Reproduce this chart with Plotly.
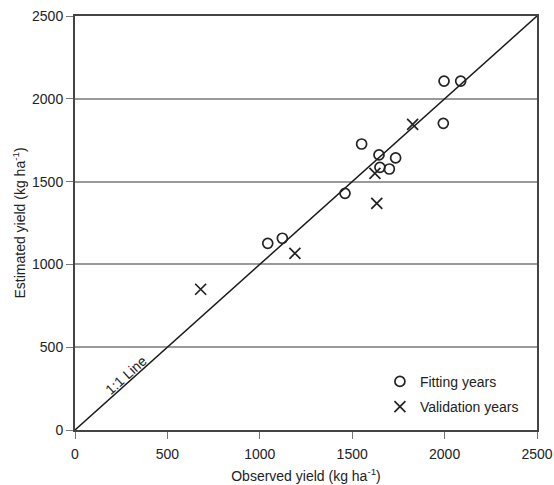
import plotly.graph_objects as go

# Data
fit_obs = [1043, 1122, 1461, 1551, 1645, 1650, 1701, 1735, 1993, 1997, 2087]
fit_est = [1127, 1158, 1429, 1727, 1661, 1586, 1576, 1643, 1852, 2107, 2107]
val_obs = [680, 1190, 1623, 1633, 1827]
val_est = [850, 1067, 1550, 1369, 1846]
line_xy = [0, 2500]
tick_vals = [0, 500, 1000, 1500, 2000, 2500]

font = "Liberation Sans, Arial, sans-serif"
ink = "#222222"

fig = go.Figure()
fig.add_trace(go.Scatter(x=line_xy, y=line_xy, mode="lines",
                         line=dict(color="#1a1a1a", width=1.5),
                         showlegend=False, hoverinfo="skip"))
fig.add_trace(go.Scatter(x=fit_obs, y=fit_est, mode="markers", name="Fitting years",
                         legendgroup="a",
                         marker=dict(symbol="circle-open", size=10, color=ink,
                                     line=dict(width=1.7, color=ink))))
fig.add_trace(go.Scatter(x=val_obs, y=val_est, mode="markers", name="Validation years",
                         legendgroup="b",
                         marker=dict(symbol="x-thin-open", size=11, color=ink,
                                     line=dict(width=1.7, color=ink))))

fig.add_annotation(x=277, y=332, xref="x", yref="y", text="1:1 Line",
                   showarrow=False, textangle=-42,
                   font=dict(family=font, size=14, color=ink))

axis_common = dict(range=[0, 2500], tickvals=tick_vals, ticks="outside",
                   tickcolor="#777", showline=True, linecolor="#444", linewidth=2,
                   mirror=True, zeroline=False, automargin=False,
                   tickfont=dict(family=font, size=14, color=ink))

fig.update_xaxes(**axis_common, showgrid=False, ticklen=7, ticklabelstandoff=3,
                 title=dict(text="Observed yield (kg ha<sup>-1</sup>)", standoff=10,
                            font=dict(family=font, size=14, color=ink)))
fig.update_yaxes(**axis_common, showgrid=True, gridcolor="#9a9a9a", gridwidth=1.8,
                 ticklen=7,
                 title=dict(text="Estimated yield (kg ha<sup>-1</sup>)", standoff=3,
                            font=dict(family=font, size=14, color=ink)))

fig.update_layout(
    width=554, height=485,
    margin=dict(l=75, r=17, t=16, b=55),
    paper_bgcolor="white", plot_bgcolor="white",
    showlegend=True,
    legend=dict(x=0.66, y=0.155, xanchor="left", yanchor="top",
                bgcolor="rgba(0,0,0,0)", traceorder="grouped", tracegroupgap=4,
                itemwidth=30,
                font=dict(family=font, size=14, color=ink)),
)

fig.write_html("out.html")
